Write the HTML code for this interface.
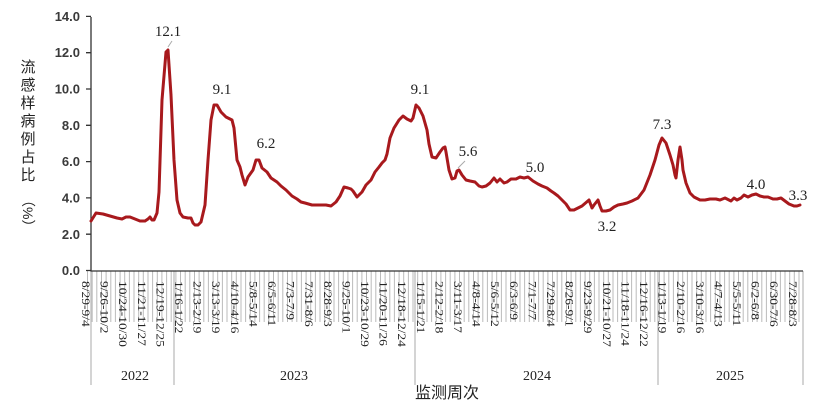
<!DOCTYPE html>
<html><head><meta charset="utf-8"><style>
html,body{margin:0;padding:0;background:#fff;}
svg{display:block;}
.yl{font-family:"Liberation Sans",sans-serif;font-size:13px;font-weight:bold;fill:#3a3a3a;text-anchor:end;}
.xl{font-family:"Liberation Serif",serif;font-size:13.5px;fill:#222;}
.dl{font-family:"Liberation Serif",serif;font-size:15px;fill:#222;text-anchor:middle;}
.yr{font-family:"Liberation Serif",serif;font-size:14px;fill:#222;text-anchor:middle;}
.cj{font-family:"Liberation Sans","Noto Sans CJK SC",sans-serif;font-size:15px;fill:#222;}
</style></head><body>
<svg width="817" height="407" viewBox="0 0 817 407" xmlns="http://www.w3.org/2000/svg">
<g stroke="#bbb" stroke-width="1">
<path d="M87.5 271V322M92.2 271V322M96.8 271V322M101.5 271V322M106.1 271V322M110.8 271V322M115.4 271V322M120.1 271V322M124.7 271V322M129.4 271V322M134 271V322M138.7 271V322M143.3 271V322M148 271V322M152.6 271V322M157.3 271V322M161.9 271V322M166.6 271V322M171.2 271V322M175.9 271V322M180.5 271V322M185.2 271V322M189.8 271V322M194.5 271V322M199.1 271V322M203.8 271V322M208.4 271V322M213.1 271V322M217.7 271V322M222.4 271V322M227 271V322M231.7 271V322M236.3 271V322M241 271V322M245.6 271V322M250.3 271V322M254.9 271V322M259.6 271V322M264.2 271V322M268.9 271V322M273.5 271V322M278.2 271V322M282.8 271V322M287.5 271V322M292.1 271V322M296.8 271V322M301.4 271V322M306.1 271V322M310.7 271V322M315.4 271V322M320 271V322M324.7 271V322M329.3 271V322M334 271V322M338.6 271V322M343.3 271V322M347.9 271V322M352.6 271V322M357.2 271V322M361.9 271V322M366.5 271V322M371.2 271V322M375.8 271V322M380.5 271V322M385.1 271V322M389.8 271V322M394.4 271V322M399.1 271V322M403.7 271V322M408.4 271V322M413 271V322M417.7 271V322M422.3 271V322M427 271V322M431.6 271V322M436.3 271V322M440.9 271V322M445.6 271V322M450.2 271V322M454.9 271V322M459.5 271V322M464.2 271V322M468.8 271V322M473.5 271V322M478.1 271V322M482.8 271V322M487.4 271V322M492.1 271V322M496.7 271V322M501.4 271V322M506 271V322M510.7 271V322M515.3 271V322M520 271V322M524.6 271V322M529.3 271V322M533.9 271V322M538.6 271V322M543.2 271V322M547.9 271V322M552.5 271V322M557.2 271V322M561.8 271V322M566.5 271V322M571.1 271V322M575.8 271V322M580.4 271V322M585.1 271V322M589.7 271V322M594.4 271V322M599 271V322M603.7 271V322M608.3 271V322M613 271V322M617.6 271V322M622.3 271V322M626.9 271V322M631.6 271V322M636.2 271V322M640.9 271V322M645.5 271V322M650.2 271V322M654.8 271V322M659.5 271V322M664.1 271V322M668.8 271V322M673.4 271V322M678.1 271V322M682.7 271V322M687.4 271V322M692 271V322M696.7 271V322M701.3 271V322M706 271V322M710.6 271V322M715.3 271V322M719.9 271V322M724.6 271V322M729.2 271V322M733.9 271V322M738.5 271V322M743.2 271V322M747.8 271V322M752.5 271V322M757.1 271V322M761.8 271V322M766.4 271V322M771.1 271V322M775.7 271V322M780.4 271V322M785 271V322M789.7 271V322M794.3 271V322M799 271V322M803 271V322"/>
<path d="M91 271V385M174 271V385M415 271V385M658 271V385M803 271V385" stroke="#aaa"/>
</g>
<path d="M91 17V271H803" fill="none" stroke="#333" stroke-width="1.3"/>
<g stroke="#333" stroke-width="1.3">
<path d="M86 270.5H91M86 234.2H91M86 197.9H91M86 161.6H91M86 125.3H91M86 89H91M86 52.7H91M86 16.4H91"/>
</g>
<g class="yl">
<text x="80" y="275">0.0</text><text x="80" y="239">2.0</text><text x="80" y="202.5">4.0</text><text x="80" y="166">6.0</text><text x="80" y="130">8.0</text><text x="80" y="93.5">10.0</text><text x="80" y="57">12.0</text><text x="80" y="21">14.0</text>
</g>
<g class="cj" font-size="15">
<text x="28" y="72" text-anchor="middle">流</text>
<text x="28" y="90" text-anchor="middle">感</text>
<text x="28" y="108" text-anchor="middle">样</text>
<text x="28" y="126" text-anchor="middle">病</text>
<text x="28" y="144" text-anchor="middle">例</text>
<text x="28" y="162" text-anchor="middle">占</text>
<text x="28" y="180" text-anchor="middle">比</text>
<text transform="translate(23,193) rotate(90)" style="font-size:14px">（%）</text>
</g>
<polyline fill="none" stroke="#a8191d" stroke-width="3" stroke-linejoin="round" stroke-linecap="round" points="91,221 96,213 103,214 110,216 117,218 122,219 126,217 130,217 135,219 140,221 145,221 148,219 150,217 152,220 154,220 157,213 159,192 162,100 166,52 168,50 171,95 174,160 177,200 180,213 183,217 188,218 191,218 193,223 195,225 198,225 201,222 205,205 208,160 211,120 214,105 217,105 221,112 226,117 232,120 234,128 237,160 240,167 242,175 245,185 248,177 253,170 256,160 259,160 262,168 267,172 271,178 277,182 281,186 286,190 292,196 297,199 301,202 305,203 312,205 318,205 326,205 331,206 336,202 340,196 344,187 348,188 351,189 353,191 357,197 362,192 366,185 371,180 375,172 379,167 382,163 385,160 387,154 390,138 394,128 399,120 403,116 407,119 411,121 413,118 416,105 419,108 423,116 427,130 429,144 432,157 436,158 440,152 443,148 445,147 446,152 449,170 452,179 455,178 457,171 459,170 462,175 466,180 470,181 475,182 479,186 482,187 486,186 490,183 494,178 497,182 500,179 504,183 507,182 511,179 516,179 520,177 524,178 528,177 533,181 538,184 542,186 547,188 551,191 554,193 558,196 562,200 566,204 570,210 574,210 578,208 582,206 589,200 592,208 594,205 598,200 600,206 602,211 606,211 610,210 614,207 618,205 623,204 627,203 632,201 638,198 644,190 650,175 655,160 659,145 662,138 666,143 670,155 673,165 675,175 676,178 678,160 680,147 682,160 683,170 686,183 690,193 694,197 700,200 705,200 710,199 716,199 720,200 725,198 731,201 734,198 737,200 741,198 744,195 748,197 752,195 756,194 760,196 764,197 768,197 773,199 777,199 781,198 785,201 789,204 794,206 797,206 800,205"/>
<g stroke="#aaa" stroke-width="1"><path d="M168 47L172 41M458 168L465 161"/></g>
<g class="dl">
<text x="168" y="36">12.1</text><text x="222" y="94">9.1</text><text x="266" y="148">6.2</text><text x="420" y="94">9.1</text><text x="468" y="156">5.6</text><text x="535" y="172">5.0</text><text x="607" y="231">3.2</text><text x="662" y="129">7.3</text><text x="756" y="189">4.0</text><text x="798" y="200">3.3</text>
</g>
<g class="xl">
<text transform="translate(82,281) rotate(90) scale(1,0.82)">8/29-9/4</text>
<text transform="translate(100.6,281) rotate(90) scale(1,0.82)">9/26-10/2</text>
<text transform="translate(119.2,281) rotate(90) scale(1,0.82)">10/24-10/30</text>
<text transform="translate(137.8,281) rotate(90) scale(1,0.82)">11/21-11/27</text>
<text transform="translate(156.4,281) rotate(90) scale(1,0.82)">12/19-12/25</text>
<text transform="translate(175,281) rotate(90) scale(1,0.82)">1/16-1/22</text>
<text transform="translate(193.6,281) rotate(90) scale(1,0.82)">2/13-2/19</text>
<text transform="translate(212.2,281) rotate(90) scale(1,0.82)">3/13-3/19</text>
<text transform="translate(230.8,281) rotate(90) scale(1,0.82)">4/10-4/16</text>
<text transform="translate(249.4,281) rotate(90) scale(1,0.82)">5/8-5/14</text>
<text transform="translate(268,281) rotate(90) scale(1,0.82)">6/5-6/11</text>
<text transform="translate(286.6,281) rotate(90) scale(1,0.82)">7/3-7/9</text>
<text transform="translate(305.2,281) rotate(90) scale(1,0.82)">7/31-8/6</text>
<text transform="translate(323.8,281) rotate(90) scale(1,0.82)">8/28-9/3</text>
<text transform="translate(342.4,281) rotate(90) scale(1,0.82)">9/25-10/1</text>
<text transform="translate(361,281) rotate(90) scale(1,0.82)">10/23-10/29</text>
<text transform="translate(379.6,281) rotate(90) scale(1,0.82)">11/20-11/26</text>
<text transform="translate(398.2,281) rotate(90) scale(1,0.82)">12/18-12/24</text>
<text transform="translate(416.8,281) rotate(90) scale(1,0.82)">1/15-1/21</text>
<text transform="translate(435.4,281) rotate(90) scale(1,0.82)">2/12-2/18</text>
<text transform="translate(454,281) rotate(90) scale(1,0.82)">3/11-3/17</text>
<text transform="translate(472.6,281) rotate(90) scale(1,0.82)">4/8-4/14</text>
<text transform="translate(491.2,281) rotate(90) scale(1,0.82)">5/6-5/12</text>
<text transform="translate(509.8,281) rotate(90) scale(1,0.82)">6/3-6/9</text>
<text transform="translate(528.4,281) rotate(90) scale(1,0.82)">7/1-7/7</text>
<text transform="translate(547,281) rotate(90) scale(1,0.82)">7/29-8/4</text>
<text transform="translate(565.6,281) rotate(90) scale(1,0.82)">8/26-9/1</text>
<text transform="translate(584.2,281) rotate(90) scale(1,0.82)">9/23-9/29</text>
<text transform="translate(602.8,281) rotate(90) scale(1,0.82)">10/21-10/27</text>
<text transform="translate(621.4,281) rotate(90) scale(1,0.82)">11/18-11/24</text>
<text transform="translate(640,281) rotate(90) scale(1,0.82)">12/16-12/22</text>
<text transform="translate(658.6,281) rotate(90) scale(1,0.82)">1/13-1/19</text>
<text transform="translate(677.2,281) rotate(90) scale(1,0.82)">2/10-2/16</text>
<text transform="translate(695.8,281) rotate(90) scale(1,0.82)">3/10-3/16</text>
<text transform="translate(714.4,281) rotate(90) scale(1,0.82)">4/7-4/13</text>
<text transform="translate(733,281) rotate(90) scale(1,0.82)">5/5-5/11</text>
<text transform="translate(751.6,281) rotate(90) scale(1,0.82)">6/2-6/8</text>
<text transform="translate(770.2,281) rotate(90) scale(1,0.82)">6/30-7/6</text>
<text transform="translate(788.8,281) rotate(90) scale(1,0.82)">7/28-8/3</text>
</g>
<g class="yr">
<text x="135" y="380">2022</text><text x="294" y="380">2023</text><text x="537" y="380">2024</text><text x="730" y="380">2025</text>
</g>
<text class="cj" x="447" y="398" text-anchor="middle" style="font-size:16px">监测周次</text>
</svg>
</body></html>
